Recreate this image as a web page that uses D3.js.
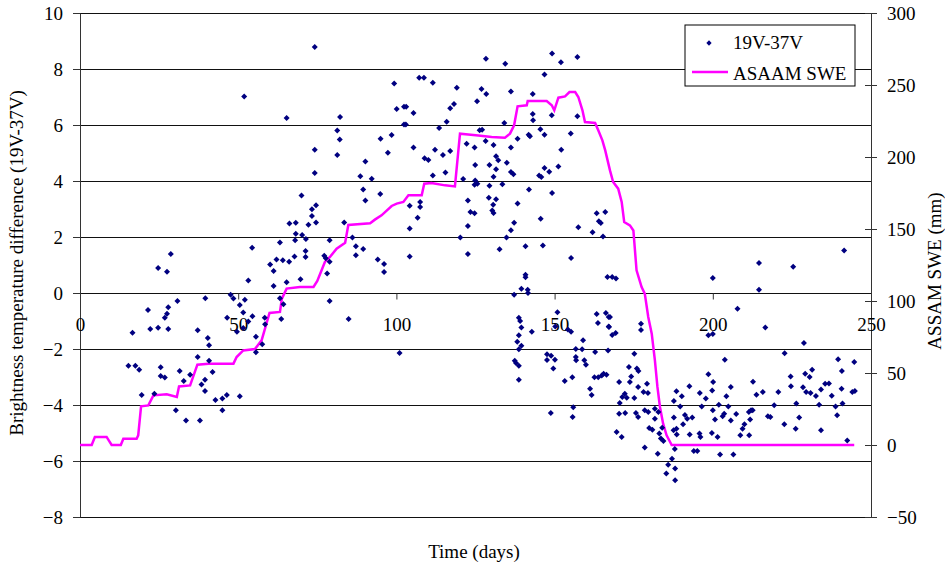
<!DOCTYPE html>
<html>
<head>
<meta charset="utf-8">
<script src="https://cdn.jsdelivr.net/npm/d3@7"></script>
<style>
  body { margin: 0; background: #fff; }
  text { font-family: "Liberation Serif", "Times New Roman", serif; }
</style>
</head>
<body>
<div id="chart"></div>
<script>
// ticks
var leftTicks = [-8, -6, -4, -2, 0, 2, 4, 6, 8, 10];
var rightTicks = [-50, 0, 50, 100, 150, 200, 250, 300];
var dayTicks = [0, 50, 100, 150, 200, 250];

// 19V-37V brightness temperature difference, [day, K]
var btdPoints = [
  [74.2,8.79],[51.9,7.02],[65.3,6.25],[82.2,6.29],[81.3,5.80],[82.1,5.48],[74.2,5.12],[81.3,4.93],[74.2,4.29],[70.0,3.48],
  [74.6,3.13],[73.3,2.99],[73.3,2.75],[66.2,2.48],[68.2,2.51],[72.2,2.44],[74.6,2.52],[83.5,2.52],[68.2,2.12],[70.2,2.07],
  [71.4,1.93],[68.0,1.88],[63.2,1.80],[78.9,1.88],[54.4,1.62],[71.3,1.50],[71.3,1.29],[67.8,1.30],[66.1,1.12],[64.1,1.17],
  [62.1,1.20],[60.1,1.02],[61.2,0.79],[77.2,1.33],[77.7,1.24],[78.9,1.12],[78.1,0.70],[69.7,0.49],[65.3,0.38],[53.2,0.45],
  [61.2,0.25],[78.9,-0.29],[28.7,1.39],[24.7,0.89],[27.5,0.76],[30.8,-0.29],[39.6,-0.19],[27.9,-0.51],[21.5,-0.61],[27.5,-0.74],
  [26.8,-0.88],[16.6,-1.42],[22.2,-1.29],[24.7,-1.24],[27.9,-1.29],[37.2,-1.33],[40.4,-1.61],[40.8,-1.87],[47.6,-0.06],[48.5,-0.20],
  [50.5,-0.43],[52.1,-0.24],[51.6,-0.70],[54.5,-0.83],[53.2,-1.02],[46.5,-0.88],[49.6,-1.38],[51.6,-1.25],[58.4,-0.88],[58.5,-1.12],
  [55.6,-1.56],[57.6,-1.83],[55.6,-2.12],[63.2,-0.19],[64.3,-0.40],[63.6,-0.93],[15.3,-2.60],[17.5,-2.60],[18.7,-2.74],[25.5,-2.65],
  [25.5,-2.96],[26.8,-3.02],[31.5,-2.79],[32.8,-3.14],[34.8,-2.92],[37.2,-2.29],[40.8,-2.42],[41.9,-2.82],[39.5,-3.10],[38.4,-3.27],
  [39.5,-3.50],[42.8,-3.82],[45.0,-3.77],[46.4,-3.64],[50.5,-3.69],[19.5,-3.64],[23.5,-3.60],[30.3,-4.19],[33.5,-4.55],[37.9,-4.55],
  [45.0,-4.19],
  [128.3,8.37],[134.4,8.19],[149.2,8.55],[152.0,8.24],[157.2,8.43],[146.8,7.80],[99.3,7.48],[107.2,7.69],[108.7,7.69],[111.5,7.51],
  [119.1,7.33],[126.9,7.29],[128.4,7.11],[136.2,7.20],[143.1,7.11],[125.5,6.85],[118.2,6.75],[117.0,6.60],[100.1,6.57],[102.4,6.65],
  [103.1,6.65],[105.4,6.43],[102.4,6.02],[103.0,6.02],[115.9,6.12],[113.5,5.89],[126.3,5.81],[127.1,5.83],[134.1,6.07],[143.1,6.39],
  [143.2,6.17],[145.5,5.85],[146.8,5.65],[141.8,5.65],[142.2,5.60],[149.1,6.35],[157.2,6.31],[155.1,5.70],[95.0,5.51],[98.5,5.64],
  [97.3,5.01],[105.4,5.20],[108.9,4.81],[110.1,4.75],[112.2,5.12],[114.7,4.93],[117.0,5.07],[128.2,5.43],[130.7,5.29],[122.2,5.33],
  [124.7,5.20],[136.2,5.20],[138.3,5.51],[131.5,4.88],[132.2,4.74],[134.9,4.65],[124.9,4.57],[129.4,4.57],[131.5,4.42],[130.7,4.15],
  [136.2,4.32],[137.0,4.24],[111.5,4.20],[115.5,4.30],[121.1,4.07],[124.9,4.02],[125.6,3.90],[124.7,3.87],[129.4,3.83],[133.5,3.88],
  [141.9,3.70],[145.1,4.20],[145.8,4.14],[146.8,4.46],[148.3,4.33],[151.2,4.52],[152.1,5.12],[149.2,3.57],[90.2,4.70],[88.6,4.17],
  [92.2,4.08],[89.5,3.70],[90.2,3.30],[94.9,3.54],[104.2,3.12],[107.5,3.25],[107.5,3.07],[106.7,2.69],[104.2,2.30],[122.6,3.30],
  [123.4,2.89],[124.7,2.85],[122.6,2.39],[120.2,1.98],[122.6,1.39],[129.2,3.40],[131.5,3.35],[130.6,3.15],[130.3,2.95],[130.7,2.86],
  [138.3,3.20],[137.2,2.51],[136.2,2.24],[134.8,1.98],[132.6,1.56],[140.8,1.67],[145.6,2.65],[146.3,1.70],[155.2,1.25],[157.5,2.35],
  [104.2,1.30],[94.1,1.20],[96.1,1.04],[96.1,0.75],[87.2,1.67],[89.5,1.57],[87.2,1.35],[86.1,1.98],[140.8,0.65],[140.8,0.56],
  [139.5,0.15],[141.5,0.12],[141.6,0.00],[137.2,-0.06],[163.3,2.85],[166.0,2.89],[164.0,2.56],[164.6,2.50],[162.0,2.17],[165.3,2.02],
  [166.7,0.57],[84.9,-0.93],[101.0,-2.14],[138.7,-0.88],[139.5,-1.23],[138.7,-1.51],[139.5,-1.88],[138.7,-2.01],[137.4,-2.42],[137.8,-2.50],
  [138.7,-2.60],[138.7,-3.10],[138.2,-1.74],[139.1,-1.00],[142.8,-1.38],[150.9,-0.69],[150.2,-1.20],[154.2,-1.30],[155.2,-1.38],[147.6,-2.19],
  [148.9,-2.24],[147.6,-2.39],[150.1,-2.38],[149.6,-2.70],[153.2,-3.14],[155.6,-3.01],[148.8,-4.29],[155.9,-4.08],[155.7,-4.43],[156.7,-2.00],
  [159.0,-1.69],[158.7,-2.01],[156.7,-2.29],[156.8,-2.40],[159.4,-2.40],[159.9,-2.56],[162.8,-2.11],[166.9,-2.05],[163.3,-0.75],[166.2,-0.71],
  [163.7,-1.07],[167.1,-0.86],[167.1,-1.20],[162.6,-3.01],[163.8,-3.01],[164.9,-2.95],[165.5,-2.88],[161.2,-3.42],[161.7,-3.64],
  [241.5,1.52],[214.6,1.07],[225.4,0.94],[200.0,0.54],[214.6,0.12],[207.8,-0.56],[216.6,-1.23],[168.2,0.57],[169.4,0.52],[167.5,-0.86],
  [167.2,-1.21],[168.2,-1.50],[169.3,-1.43],[177.3,-1.10],[177.3,-1.32],[198.6,-1.51],[200.0,-1.46],[228.8,-1.79],[222.7,-2.15],[203.8,-2.38],
  [244.7,-2.46],[239.6,-2.37],[240.8,-2.79],[240.7,-3.42],[231.4,-2.74],[229.2,-2.88],[230.6,-3.00],[224.6,-2.98],[224.7,-3.33],[228.5,-3.37],
  [229.5,-3.54],[230.9,-3.57],[232.6,-3.68],[234.2,-3.45],[235.5,-3.24],[236.7,-3.23],[237.6,-3.67],[244.1,-3.54],[244.9,-3.50],[238.8,-4.05],
  [239.3,-4.37],[241.0,-3.95],[233.6,-3.99],[226.4,-3.95],[227.3,-4.45],[226.2,-4.85],[222.6,-4.69],[234.2,-4.90],[242.5,-5.27],[220.7,-3.54],
  [219.4,-4.01],[217.4,-4.40],[218.2,-4.43],[215.8,-3.54],[213.8,-3.63],[212.7,-3.17],[212.1,-4.19],[211.4,-4.25],[212.6,-4.19],[211.8,-4.52],
  [210.0,-4.69],[209.4,-4.85],[208.7,-5.08],[211.5,-5.08],[207.4,-4.32],[205.7,-4.55],[205.7,-3.36],[204.3,-3.69],[204.9,-4.05],[203.6,-4.31],
  [203.1,-4.40],[201.9,-3.99],[200.7,-4.52],[200.0,-4.19],[199.8,-3.48],[200.1,-3.18],[198.6,-2.90],[197.8,-3.77],[196.5,-4.05],[195.9,-3.57],
  [199.7,-5.00],[201.5,-5.14],[202.3,-5.77],[206.5,-5.77],[196.1,-5.14],[195.8,-5.02],[194.0,-5.64],[195.1,-5.64],[192.7,-5.05],[191.2,-4.36],
  [191.9,-4.49],[193.5,-4.45],[192.6,-3.33],[190.2,-3.69],[189.7,-4.05],[188.5,-3.51],[187.7,-3.86],[187.7,-4.45],[190.6,-4.69],[188.5,-4.85],
  [187.6,-4.90],[188.6,-5.05],[188.0,-5.57],[187.1,-5.92],[188.1,-6.27],[185.3,-6.45],[185.9,-6.13],[188.1,-6.69],[182.6,-5.74],[184.4,-5.29],
  [183.1,-5.02],[183.6,-5.20],[184.0,-4.81],[181.7,-4.49],[182.8,-4.25],[181.7,-4.13],[180.9,-4.88],[179.9,-4.82],[178.5,-5.52],[179.6,-4.25],
  [178.5,-4.19],[176.4,-4.43],[175.7,-4.29],[179.5,-3.57],[178.1,-3.54],[179.2,-3.24],[176.4,-3.36],[175.2,-3.75],[174.2,-2.98],[173.8,-3.18],
  [176.0,-2.70],[176.5,-2.79],[175.2,-2.17],[173.5,-2.64],[170.4,-3.18],[170.4,-4.31],[172.3,-4.29],[172.2,-3.60],[171.4,-3.71],[170.6,-3.93],
  [172.8,-3.74],[169.6,-4.96],[171.2,-5.14],[166.4,-2.92]
];

// ASAAM snow water equivalent, [day, mm]
var swePoints = [
  [0,0],[3.7,0],[4.7,5.6],[8.4,5.6],[10,0],[12.9,0],[13.7,4.4],[17.9,4.4],[18.4,6.7],[19.3,26.9],
  [21.6,27.5],[23.2,34.5],[27.4,35.2],[30.6,33.3],[31.3,40.7],[34.8,41.4],[37.1,55.8],[40.6,56.5],[48.5,56.5],[49.5,61.1],
  [51.6,65.7],[55.3,66.7],[57.4,72.7],[59.9,91.7],[63.2,92.4],[63.8,101.6],[65.3,108.6],[69.5,109.7],[73.8,109.7],[75.0,113.9],
  [77.4,127.1],[79.0,130.6],[81.1,136.3],[83.8,140.5],[84.8,152.8],[91.7,154],[93.2,156.5],[95.3,159.5],[98.5,166],[100.1,167.6],
  [102.2,168.8],[103.8,173.4],[108,173.4],[108.8,181.5],[111.1,182],[115.4,180.3],[118.5,179.6],[120.1,216.2],[122.7,215.7],[125.9,215],
  [130.1,213.9],[134.3,213.4],[135.9,216.2],[137.2,222],[138.3,235.2],[141.2,235.9],[141.5,238.9],[147.5,238.9],[149.1,235.9],[149.9,232.4],
  [151.2,241.2],[153.3,242.1],[154.7,245.1],[156.5,245.1],[157.5,241.7],[158.8,232.4],[159.6,224.3],[162.8,223.6],[163.8,218.5],[165.1,211.6],
  [166.0,204.6],[167.5,190.7],[168.5,182.6],[170.1,178],[171.2,168.8],[172.0,154.9],[173.8,152.5],[174.9,149],[175.9,121.3],[177.5,109.7],
  [178.5,105.1],[179.6,88.9],[180.7,77.3],[181.7,58.8],[182.5,40.3],[183.3,26.4],[184.3,14.8],[185.4,6.7],[187,0],[244.7,0]
];

var W = 945, H = 566;
var margin = {top: 13, right: 74, bottom: 49, left: 80};
var width = W - margin.left - margin.right;
var height = H - margin.top - margin.bottom;

var svg = d3.select("#chart").append("svg")
    .attr("width", W)
    .attr("height", H)
  .append("g")
    .attr("transform", "translate(" + margin.left + "," + margin.top + ")");

var x = d3.scaleLinear().domain([0, 250]).range([0, width]);
var yL = d3.scaleLinear().domain([-8, 10]).range([height, 0]);
var yR = d3.scaleLinear().domain([-50, 300]).range([height, 0]);

// gridlines
svg.append("g")
  .selectAll("line")
  .data(leftTicks)
  .enter().append("line")
    .attr("x1", 0)
    .attr("x2", width)
    .attr("y1", function(d){ return Math.round(yL(d)) + 0.5; })
    .attr("y2", function(d){ return Math.round(yL(d)) + 0.5; })
    .attr("stroke", "#111")
    .attr("stroke-width", 1.2);

// left axis
svg.append("g")
    .style("font-size", "19px")
    .call(d3.axisLeft(yL).tickValues(leftTicks).tickSize(7).tickSizeOuter(0).tickPadding(10))
    .call(function(g){
      g.selectAll("text").attr("fill", "#000").style("font-family", "Liberation Serif, serif");
      g.selectAll("line, path").attr("stroke", "#333");
    });

// right axis, ticks cross the line
svg.append("g")
    .attr("transform", "translate(" + width + ",0)")
    .style("font-size", "19px")
    .call(d3.axisRight(yR).tickValues(rightTicks).tickSize(6).tickSizeOuter(0).tickPadding(10))
    .call(function(g){
      g.selectAll(".tick line").attr("x1", -6);
      g.selectAll("text").attr("fill", "#000").style("font-family", "Liberation Serif, serif");
      g.selectAll("line, path").attr("stroke", "#333");
    });

// x axis sits on the zero line
svg.append("g")
    .attr("transform", "translate(0," + (Math.round(yL(0)) + 0.5) + ")")
    .style("font-size", "19px")
    .call(d3.axisBottom(x).tickValues(dayTicks).tickSize(6).tickPadding(18))
    .call(function(g){
      g.select(".domain").remove();
      g.selectAll("text").attr("fill", "#000").style("font-family", "Liberation Serif, serif");
      g.selectAll("line").attr("stroke", "#333");
    });

// SWE line
var line = d3.line()
    .x(function(d){ return x(d[0]); })
    .y(function(d){ return yR(d[1]); });

svg.append("path")
    .datum(swePoints)
    .attr("fill", "none")
    .attr("stroke", "#ff00ff")
    .attr("stroke-width", 2.5)
    .attr("d", line);

// scatter
var diamond = d3.symbol().type(d3.symbolSquare).size(18);

svg.append("g")
  .selectAll("path")
  .data(btdPoints)
  .enter().append("path")
    .attr("d", diamond)
    .attr("transform", function(d){
      return "translate(" + x(d[0]) + "," + yL(d[1]) + ") rotate(45)";
    })
    .attr("fill", "#000080");

// legend
var lg = svg.append("g").attr("transform", "translate(" + (685 - margin.left) + "," + (25 - margin.top) + ")");
lg.append("rect")
    .attr("width", 170)
    .attr("height", 61)
    .attr("fill", "#fff")
    .attr("stroke", "#000");
lg.append("path")
    .attr("d", d3.symbol().type(d3.symbolSquare).size(14))
    .attr("transform", "translate(24,18) rotate(45)")
    .attr("fill", "#000080");
lg.append("text")
    .attr("x", 48).attr("y", 24)
    .style("font-size", "19px")
    .text("19V-37V");
lg.append("line")
    .attr("x1", 7).attr("x2", 43)
    .attr("y1", 47).attr("y2", 47)
    .attr("stroke", "#ff00ff")
    .attr("stroke-width", 2.5);
lg.append("text")
    .attr("x", 48).attr("y", 55)
    .style("font-size", "19px")
    .text("ASAAM SWE");

// axis titles
svg.append("text")
    .attr("transform", "translate(" + (23 - margin.left) + "," + (263 - margin.top) + ") rotate(-90)")
    .attr("text-anchor", "middle")
    .style("font-size", "19px")
    .text("Brightness temperature difference (19V-37V)");

svg.append("text")
    .attr("transform", "translate(" + (941 - margin.left) + "," + (271 - margin.top) + ") rotate(-90)")
    .attr("text-anchor", "middle")
    .style("font-size", "19px")
    .text("ASSAM SWE (mm)");

svg.append("text")
    .attr("x", 474 - margin.left)
    .attr("y", 558 - margin.top)
    .attr("text-anchor", "middle")
    .style("font-size", "19px")
    .text("Time (days)");
</script>
</body>
</html>
